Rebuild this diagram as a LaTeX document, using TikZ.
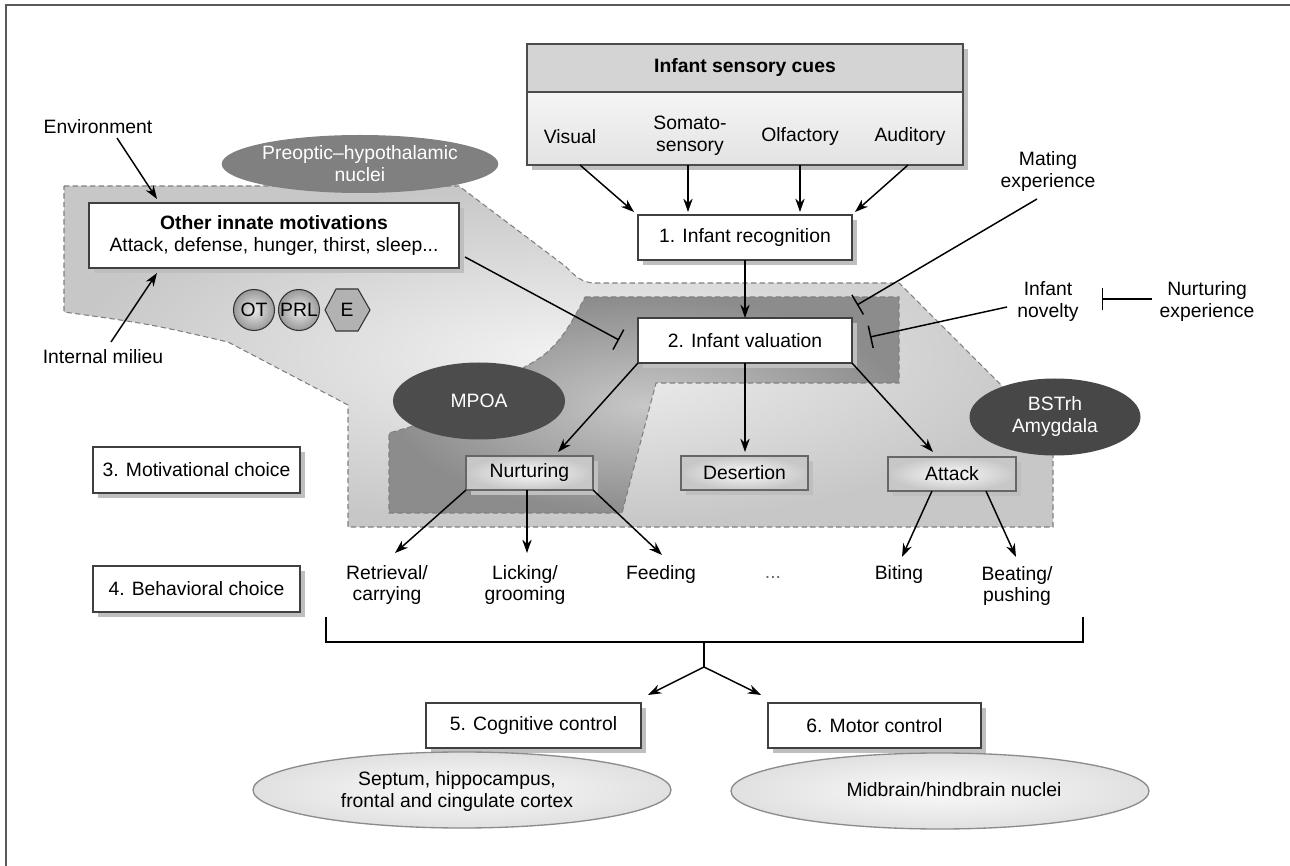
\documentclass[tikz,border=0pt]{standalone}
\usepackage{fontspec}
\setmainfont{Liberation Sans}
\usetikzlibrary{arrows.meta,shadows,fit,shapes.geometric}
\newcommand\myfs{\fontsize{14.5}{16.5}\selectfont}
\begin{document}
\begin{tikzpicture}[x=0.75pt,y=-0.75pt,
  every node/.style={font=\myfs, inner sep=0pt, outer sep=0pt},
  rect/.style n args={4}{minimum width={(#3-#1)*0.75pt}, minimum height={(#4-#2)*0.75pt}, at={({(#1+#3)/2},{(#2+#4)/2})}},
  shadowed/.style={drop shadow={shadow xshift=3.5pt,shadow yshift=-3.5pt,fill=black!25,opacity=1}},
  wbox/.style={draw=black!75, line width=1pt, fill=white, shadowed, align=center},
  gbox/.style={draw=black!60, line width=1pt, shade, inner color=black!2, outer color=black!22, shadowed},
  arr/.style={line width=1.1pt, -{Stealth[length=10pt,width=7pt]}},
  inh/.style={line width=1.1pt, -{Bar[width=17pt,line width=1.1pt]}},
  region/.style={draw=black!50, line width=0.8pt, dash pattern=on 4pt off 2.5pt},
  darkell/.style={ellipse, text=white, align=center},
  lightell/.style={ellipse, draw=black!45, line width=1pt, shade, inner color=black!2, outer color=black!12, align=center},
  lbl/.style={align=center}
]
\useasboundingbox (0,0) rectangle (1290,866);
% frame
\draw[line width=1.5pt, black!65] (6,866) -- (6,5) -- (1290,5);

% light region
\shadedraw[region, inner color=black!5, outer color=black!22]
  (64,186) -- (459,186) -- (565,266) .. controls (575,276) and (582,283) .. (595,283)
  -- (899,283) -- (1053,437) -- (1053,527) -- (348,527) -- (348,405) -- (228,342)
  .. controls (150,324) .. (64,312) -- cycle;
% dark region
\shadedraw[region, inner color=black!22, outer color=black!45]
  (585,297) -- (899,297) -- (899,383) -- (656,383) -- (622,513) -- (389,513)
  -- (389,433) -- (410,427) -- (480,400) -- (526,366)
  .. controls (555,352) and (568,330) .. (585,297) -- cycle;

% region ellipses
\node[darkell, fill=black!50, minimum width=162pt, minimum height=43.5pt] (poh) at (360,164) {Preoptic--hypothalamic\\nuclei};
\node[darkell, fill=black!70, minimum width=129pt, minimum height=57.75pt] (mpoa) at (479,401) {MPOA};
\node[darkell, fill=black!72, minimum width=128.25pt, minimum height=57.75pt] (bst) at (1055,417) {BSTrh\\Amygdala};

% sensory box
\fill[black!25] (531.7,48.7) rectangle (967.7,169.7);
\fill[black!17] (527,44) rectangle (963,92);
\shade[top color=black!4, bottom color=black!11] (527,92) rectangle (963,165);
\node[draw=black!70, line width=1pt, rect={527}{44}{963}{165}] (sens) {};
\draw[black!70, line width=1pt] (527,92) -- (963,92);
\node[font=\myfs\bfseries] (hdr) at (745,68) {Infant sensory cues};
\node (vis) at (570,137) {Visual};
\node[lbl] (som) at (690,136) {Somato-\\sensory};
\node (olf) at (800,137) {Olfactory};
\node (aud) at (910,137) {Auditory};

% boxes
\node[wbox, rect={89}{203}{459}{268}] (oim) {{\bfseries Other innate motivations}\\Attack, defense, hunger, thirst, sleep...};
\node[wbox, rect={638}{215}{852}{260}] (b1) {1. Infant recognition};
\node[wbox, rect={638}{318}{852}{363}] (b2) {2. Infant valuation};
\node[wbox, rect={93}{447}{300}{493}] (b3) {3. Motivational choice};
\node[wbox, rect={93}{566}{300}{612}] (b4) {4. Behavioral choice};
\node[gbox, rect={466}{456}{593}{490}] (nur) {Nurturing};
\node[gbox, rect={681}{456}{808}{490}] (des) {Desertion};
\node[gbox, rect={888}{457}{1016}{491}] (att) {Attack};
\node[wbox, rect={426}{703}{641}{748}] (b5) {5. Cognitive control};
\node[wbox, rect={768}{703}{981}{748}] (b6) {6. Motor control};

% hormones
\node[circle, draw=black!80, line width=0.8pt, shade, inner color=black!8, outer color=black!40, minimum size=30.75pt] (ot) at (254,310) {OT};
\node[circle, draw=black!80, line width=0.8pt, shade, inner color=black!8, outer color=black!40, minimum size=30.75pt] (prl) at (299,310) {PRL};
\draw[draw=black!80, line width=0.8pt, fill=black!30] (325,310) -- (336,289) -- (358,289) -- (370,310) -- (358,331) -- (336,331) -- cycle;
\node (e) at (347,310) {E};

% texts
\node (env) at (98,127) {Environment};
\node (mil) at (103,357) {Internal milieu};
\node[lbl] (mat) at (1048,172) {Mating\\experience};
\node[lbl] (nov) at (1048,302) {Infant\\novelty};
\node[lbl] (nexp) at (1207,302) {Nurturing\\experience};
\node[lbl] (ret) at (387,585) {Retrieval/\\carrying};
\node[lbl] (lic) at (525,585) {Licking/\\grooming};
\node (fee) at (661,575) {Feeding};
\node[text=black!60] (dots) at (773,577) {...};
\node (bit) at (899,575) {Biting};
\node[lbl] (bea) at (1017,586) {Beating/\\pushing};

% bottom ellipses
\node[lightell, minimum width=313.5pt, minimum height=57pt] (sep) at (462,790) {};
\node[lbl] (septxt) at (457,791) {Septum, hippocampus,\\frontal and cingulate cortex};
\node[lightell, minimum width=313.5pt, minimum height=57pt] (mid) at (940,791) {};
\node (midtxt) at (954,790) {Midbrain/hindbrain nuclei};

% coordinates
\coordinate (vis0) at (580,165); \coordinate (vis1) at (634,212);
\coordinate (som0) at (688,165); \coordinate (som1) at (688,212);
\coordinate (olf0) at (800,165); \coordinate (olf1) at (800,212);
\coordinate (aud0) at (908,165); \coordinate (aud1) at (855,212);
\coordinate (env0) at (117,138); \coordinate (env1) at (157,199);
\coordinate (mil0) at (111,342); \coordinate (mil1) at (157,273);
\coordinate (oim0) at (465,257); \coordinate (oim1) at (619,340);
\coordinate (mat0) at (1037,199); \coordinate (mat1) at (857,305);
\coordinate (nov0) at (1007,307); \coordinate (nov1) at (870,337);
\coordinate (nex0) at (1152,299); \coordinate (nex1) at (1102,299);
\coordinate (b1b) at (745,260); \coordinate (b2t) at (745,318);
\coordinate (nurT) at (558,452); \coordinate (desT) at (745,452); \coordinate (attT) at (933,452);
\coordinate (nur1) at (527,490); \coordinate (ret1) at (395,553); \coordinate (lic1) at (527,553); \coordinate (fee1) at (662,555);
\coordinate (att1) at (932,491); \coordinate (att2) at (986,491); \coordinate (bit1) at (902,557); \coordinate (bea1) at (1016,557);
\coordinate (brL) at (326,617); \coordinate (brR) at (1083,617);
\coordinate (stem0) at (704,642); \coordinate (stem1) at (704,667);
\coordinate (to5) at (648,695); \coordinate (to6) at (761,695);

% connectors
\draw[arr] (vis0) -- (vis1);
\draw[arr] (som0) -- (som1);
\draw[arr] (olf0) -- (olf1);
\draw[arr] (aud0) -- (aud1);
\draw[arr] (env0) -- (env1);
\draw[arr] (mil0) -- (mil1);
\draw[inh] (oim0) -- (oim1);
\draw[inh] (mat0) -- (mat1);
\draw[inh] (nov0) -- (nov1);
\draw[inh] (nex0) -- (nex1);
\draw[arr] (b1b) -- (b2t);
\draw[arr] (b2.south west) -- (nurT);
\draw[arr] (b2.south) -- (desT);
\draw[arr] (b2.south east) -- (attT);
\draw[arr] (nur.south west) -- (ret1);
\draw[arr] (nur1) -- (lic1);
\draw[arr] (nur.south east) -- (fee1);
\draw[arr] (att1) -- (bit1);
\draw[arr] (att2) -- (bea1);
\draw[line width=1.1pt] (brL) -- (brL |- stem0) -- (brR |- stem0) -- (brR);
\draw[line width=1.1pt] (stem0) -- (stem1);
\draw[arr] (stem1) -- (to5);
\draw[arr] (stem1) -- (to6);
\end{tikzpicture}
\end{document}
